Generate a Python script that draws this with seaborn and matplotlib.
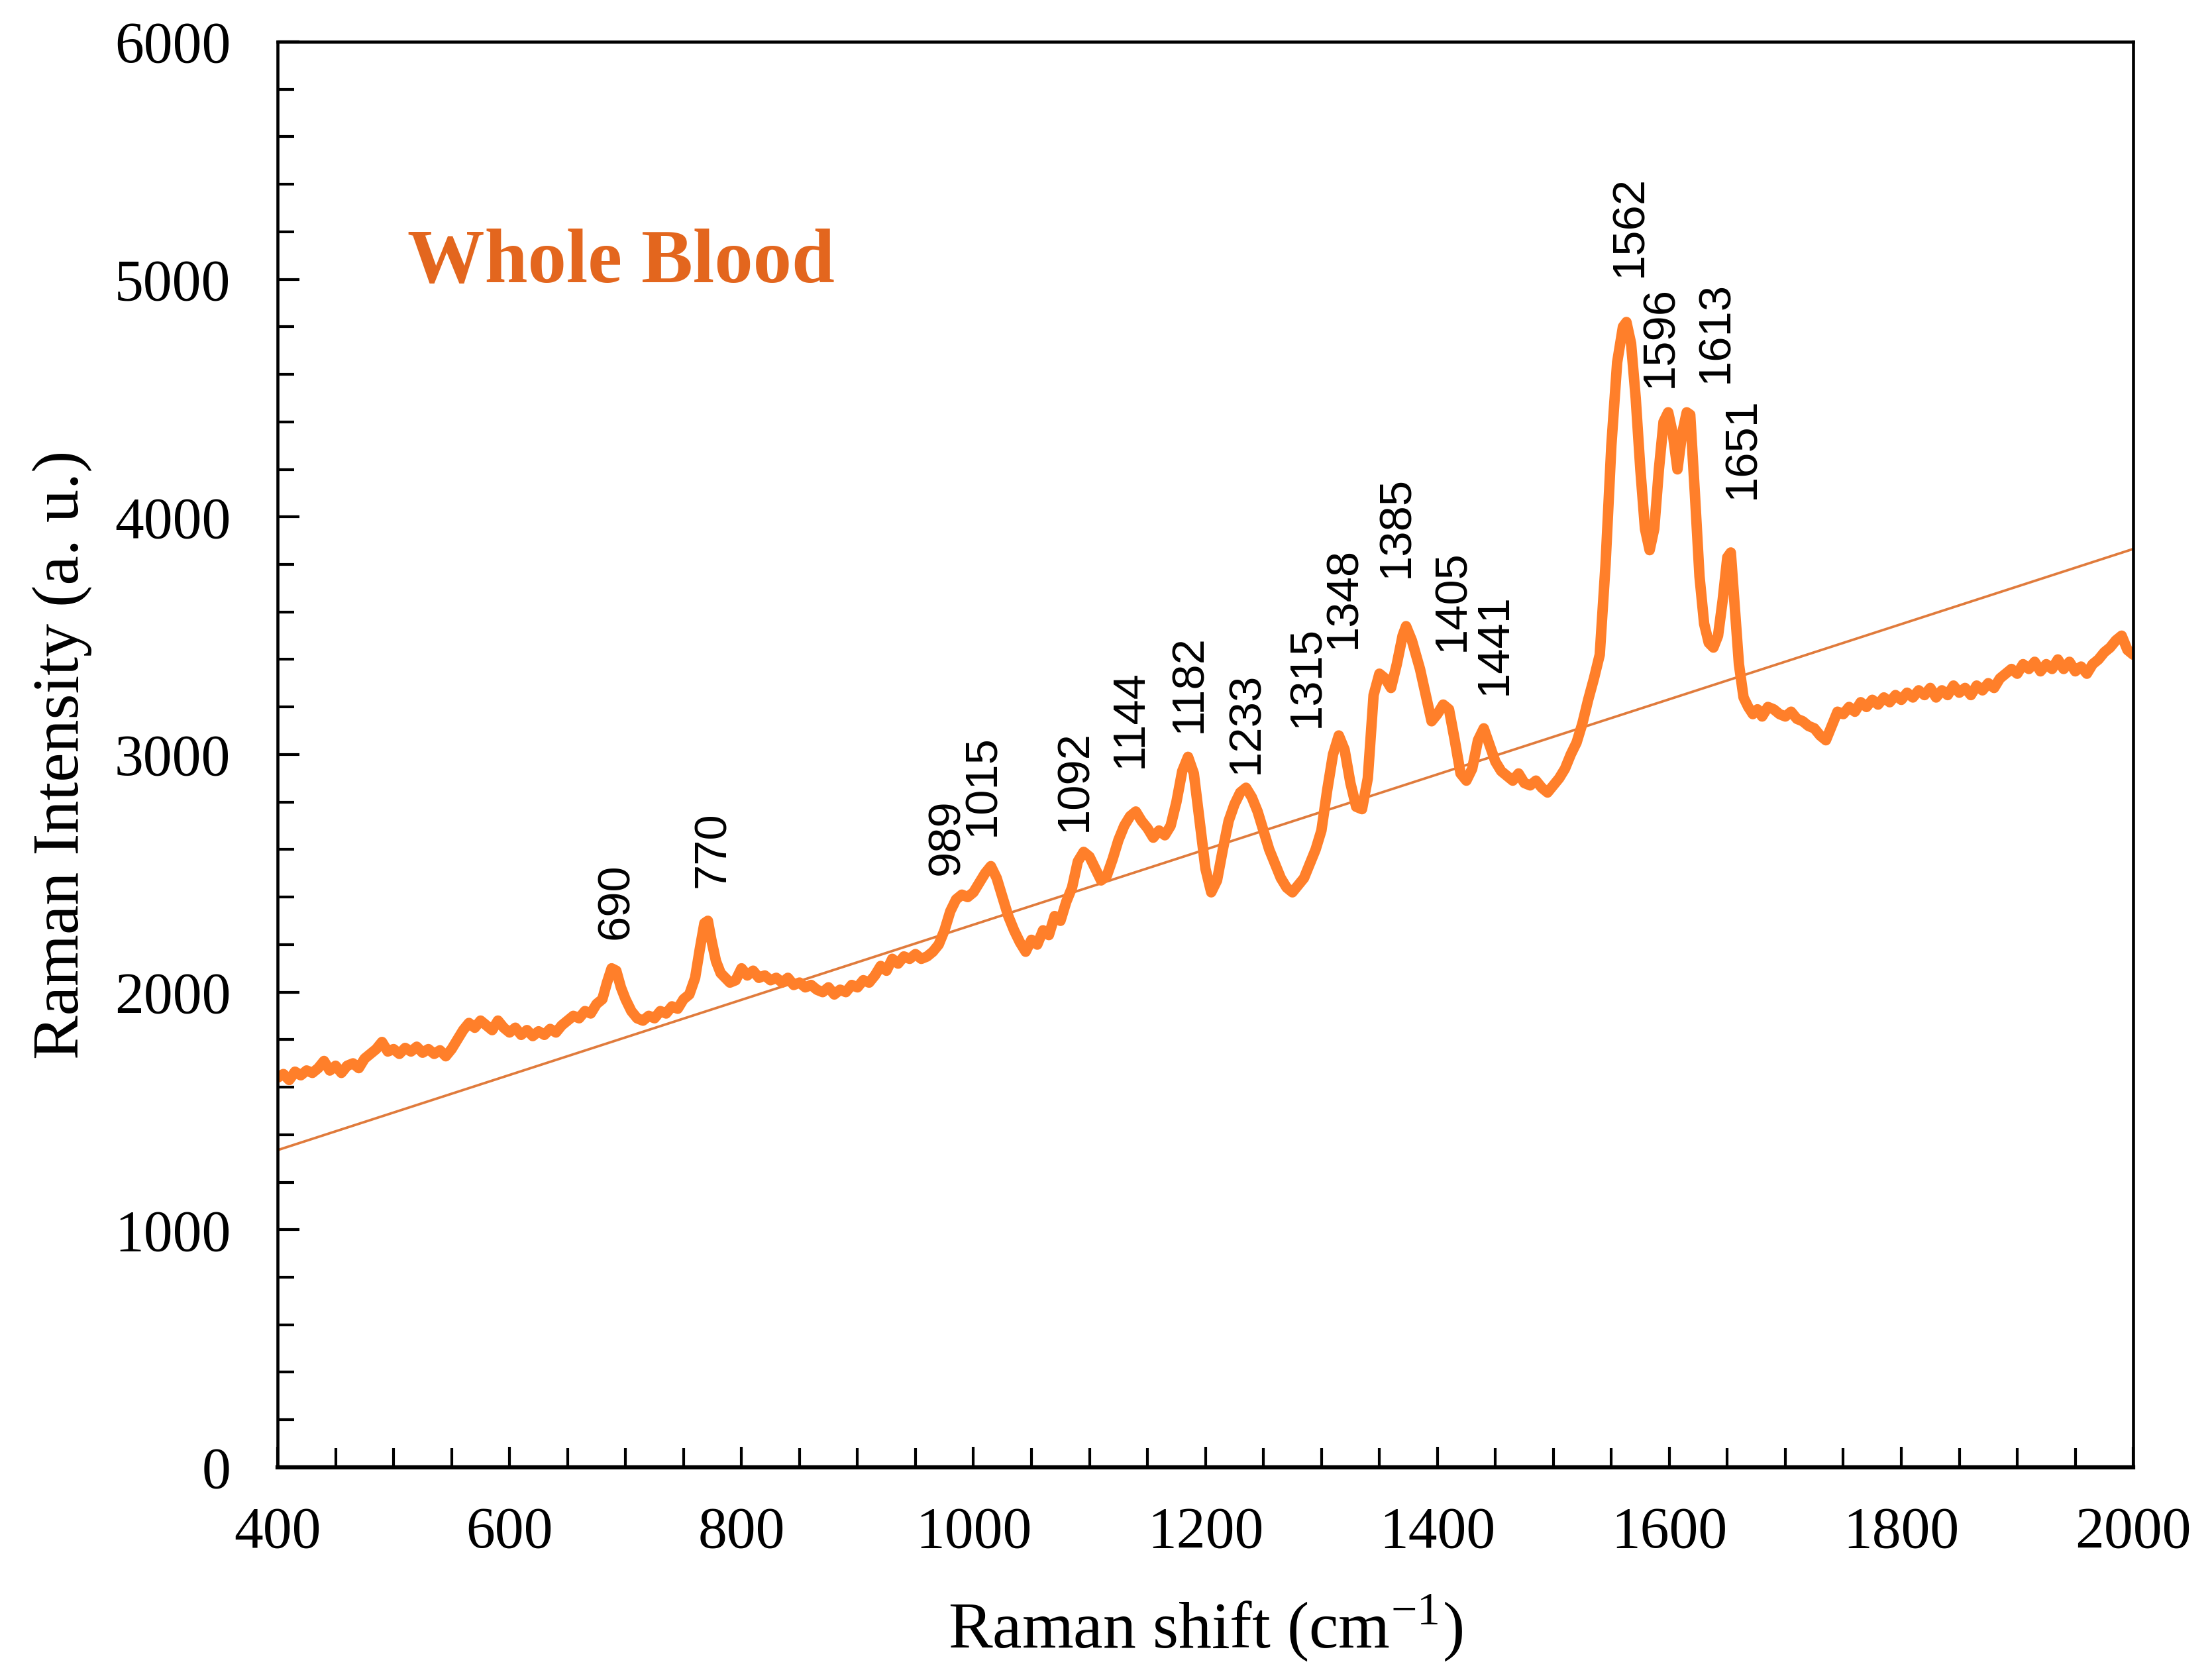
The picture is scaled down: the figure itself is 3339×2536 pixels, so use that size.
import matplotlib
matplotlib.use("Agg")
import matplotlib.pyplot as plt
import seaborn as sns
import pandas as pd
from matplotlib.ticker import MultipleLocator

# spectrum (Raman shift in cm-1, intensity in a.u.)
shift = [
    400, 405, 410, 415, 420, 425, 430, 435, 440, 445, 450, 455, 460, 465, 470, 475,
    480, 485, 490, 495, 500, 505, 510, 515, 520, 525, 530, 535, 540, 545, 550, 555,
    560, 565, 570, 575, 580, 585, 590, 595, 600, 605, 610, 615, 620, 625, 630, 635,
    640, 645, 650, 655, 660, 665, 670, 675, 680, 684, 688, 692, 696, 700, 705, 710,
    715, 720, 725, 730, 735, 740, 745, 750, 755, 760, 764, 768, 771, 774, 778, 782,
    786, 790, 795, 800, 805, 810, 815, 820, 825, 830, 835, 840, 845, 850, 855, 860,
    865, 870, 875, 880, 885, 890, 895, 900, 905, 910, 915, 920, 925, 930, 935, 940,
    945, 950, 955, 960, 965, 970, 975, 980, 985, 990, 995, 1000, 1005, 1010, 1015, 1020,
    1025, 1030, 1035, 1040, 1045, 1050, 1055, 1060, 1065, 1070, 1075, 1080, 1085, 1090, 1095, 1100,
    1105, 1110, 1115, 1120, 1125, 1130, 1135, 1140, 1145, 1150, 1155, 1160, 1165, 1170, 1175, 1180,
    1185, 1190, 1195, 1200, 1205, 1210, 1215, 1220, 1225, 1230, 1235, 1240, 1245, 1250, 1255, 1260,
    1265, 1270, 1275, 1280, 1285, 1290, 1295, 1300, 1305, 1310, 1315, 1320, 1325, 1330, 1335, 1340,
    1345, 1350, 1355, 1360, 1365, 1370, 1373, 1378, 1385, 1390, 1395, 1400, 1405, 1410, 1415, 1420,
    1425, 1430, 1435, 1440, 1445, 1450, 1455, 1460, 1465, 1470, 1475, 1480, 1485, 1490, 1495, 1500,
    1505, 1510, 1515, 1520, 1525, 1530, 1535, 1540, 1545, 1550, 1555, 1560, 1563, 1567, 1571, 1575,
    1579, 1583, 1587, 1591, 1595, 1599, 1603, 1607, 1611, 1615, 1618, 1622, 1626, 1630, 1634, 1638,
    1642, 1646, 1650, 1653, 1656, 1660, 1664, 1668, 1672, 1676, 1680, 1685, 1690, 1695, 1700, 1705,
    1710, 1715, 1720, 1725, 1730, 1735, 1740, 1745, 1750, 1755, 1760, 1765, 1770, 1775, 1780, 1785,
    1790, 1795, 1800, 1805, 1810, 1815, 1820, 1825, 1830, 1835, 1840, 1845, 1850, 1855, 1860, 1865,
    1870, 1875, 1880, 1885, 1890, 1895, 1900, 1905, 1910, 1915, 1920, 1925, 1930, 1935, 1940, 1945,
    1950, 1955, 1960, 1965, 1970, 1975, 1980, 1985, 1990, 1995, 2000,
]
intensity = [
    1640, 1655, 1630, 1665, 1650, 1670, 1660, 1680, 1710, 1670, 1690, 1660, 1690, 1700, 1680, 1720,
    1740, 1760, 1790, 1750, 1760, 1740, 1765, 1750, 1770, 1745, 1760, 1740, 1755, 1730, 1760, 1800,
    1840, 1870, 1850, 1880, 1860, 1840, 1880, 1850, 1830, 1850, 1820, 1840, 1815, 1835, 1820, 1845,
    1830, 1860, 1880, 1900, 1890, 1920, 1910, 1950, 1970, 2040, 2100, 2090, 2020, 1970, 1920, 1890,
    1880, 1900, 1890, 1920, 1910, 1940, 1930, 1970, 1990, 2060, 2180, 2290, 2300, 2220, 2130, 2080,
    2060, 2040, 2050, 2100, 2070, 2090, 2060, 2070, 2050, 2060, 2040, 2060, 2030, 2040, 2020, 2030,
    2010, 2000, 2020, 1990, 2010, 2000, 2030, 2020, 2050, 2040, 2070, 2110, 2090, 2140, 2120, 2150,
    2140, 2160, 2140, 2150, 2170, 2200, 2260, 2340, 2390, 2410, 2400, 2420, 2460, 2500, 2530, 2480,
    2400, 2320, 2260, 2210, 2170, 2220, 2200, 2260, 2240, 2320, 2300, 2380, 2440, 2550, 2590, 2570,
    2520, 2470, 2490, 2560, 2640, 2700, 2740, 2760, 2720, 2690, 2650, 2680, 2660, 2700, 2800, 2930,
    2990, 2920, 2720, 2520, 2420, 2470, 2600, 2720, 2790, 2840, 2860, 2820, 2760, 2680, 2600, 2540,
    2480, 2440, 2420, 2450, 2480, 2540, 2600, 2680, 2850, 3000, 3080, 3020, 2880, 2780, 2770, 2900,
    3250, 3340, 3320, 3280, 3380, 3500, 3540, 3480, 3360, 3250, 3140, 3170, 3210, 3190, 3060, 2920,
    2890, 2940, 3060, 3110, 3040, 2970, 2930, 2910, 2890, 2920, 2880, 2870, 2890, 2860, 2840, 2870,
    2900, 2940, 3000, 3050, 3130, 3230, 3320, 3420, 3800, 4300, 4650, 4800, 4820, 4730, 4500, 4200,
    3950, 3860, 3950, 4200, 4400, 4440, 4350, 4200, 4350, 4440, 4430, 4100, 3750, 3550, 3470, 3450,
    3500, 3650, 3830, 3850, 3650, 3380, 3240, 3200, 3170, 3190, 3160, 3200, 3190, 3170, 3160, 3180,
    3150, 3140, 3120, 3110, 3080, 3060, 3120, 3180, 3170, 3200, 3180, 3220, 3200, 3230, 3210, 3240,
    3220, 3250, 3230, 3260, 3240, 3270, 3250, 3280, 3240, 3270, 3250, 3290, 3260, 3280, 3250, 3290,
    3270, 3300, 3280, 3320, 3340, 3360, 3340, 3380, 3360, 3390, 3350, 3380, 3360, 3400, 3360, 3390,
    3350, 3370, 3340, 3380, 3400, 3430, 3450, 3480, 3500, 3440, 3420,
]

# straight reference line drawn under the spectrum
baseline_x = [400, 2000]
baseline_y = [1335, 3865]

# peak annotations: text, anchor x, anchor y
peak_labels = ["690", "770", "989", "1015", "1092", "1144", "1182", "1233", "1315",
               "1348", "1385", "1405", "1441", "1562", "1596", "1613", "1651"]
peak_x = [692, 775, 977, 1008, 1087, 1135, 1186, 1235, 1288,
          1319, 1365, 1413, 1449, 1566, 1592, 1640, 1663]
peak_y = [2223, 2438, 2492, 2656, 2675, 2943, 3093, 2920, 3113,
          3445, 3743, 3434, 3252, 5010, 4543, 4565, 4075]

sns.set_theme(style="ticks")
plt.rcParams["font.family"] = ["Liberation Serif", "DejaVu Serif"]
plt.rcParams["mathtext.fontset"] = "stix"
plt.rcParams["text.color"] = "black"
plt.rcParams["axes.labelcolor"] = "black"

df = pd.DataFrame({"shift": shift, "intensity": intensity})

fig = plt.figure(figsize=(3339 / 300, 2536 / 300), dpi=300)
ax = fig.add_axes([0.1255, 0.1266, 0.8389, 0.8486])

ax.plot(baseline_x, baseline_y, color="#E07B3C", lw=0.9, zorder=1)
sns.lineplot(data=df, x="shift", y="intensity", ax=ax, color="#FF7F2A",
             lw=3.8, sort=False, estimator=None, zorder=2)

for lab, px, py in zip(peak_labels, peak_x, peak_y):
    ax.text(px, py, lab, rotation=90, ha="center", va="bottom",
            fontsize=16.5, family=["Liberation Sans", "DejaVu Sans"], color="black")

ax.text(512, 5065, "Whole Blood", fontsize=28, fontweight="bold",
        color="#E3661E", ha="left", va="center")

ax.set_xlim(400, 2000)
ax.set_ylim(0, 6000)
ax.xaxis.set_major_locator(MultipleLocator(200))
ax.xaxis.set_minor_locator(MultipleLocator(50))
ax.yaxis.set_major_locator(MultipleLocator(1000))
ax.yaxis.set_minor_locator(MultipleLocator(200))
ax.tick_params(axis="both", which="both", direction="in", width=1.0, colors="black")
ax.tick_params(axis="x", which="major", length=7.5, pad=14, labelsize=21)
ax.tick_params(axis="x", which="minor", length=7)
ax.tick_params(axis="y", which="major", length=8, pad=17, labelsize=21)
ax.tick_params(axis="y", which="minor", length=6)

for side in ["top", "right", "left", "bottom"]:
    ax.spines[side].set_visible(True)
    ax.spines[side].set_color("black")
    ax.spines[side].set_linewidth(1.1)
ax.spines["bottom"].set_linewidth(1.5)

ax.set_xlabel("Raman shift (cm$^{\\mathregular{-1}}$)", fontsize=24, labelpad=12, color="black")
ax.set_ylabel("Raman Intensity (a. u.)", fontsize=24, labelpad=8, color="black")

fig.savefig("out.png", dpi=300)
